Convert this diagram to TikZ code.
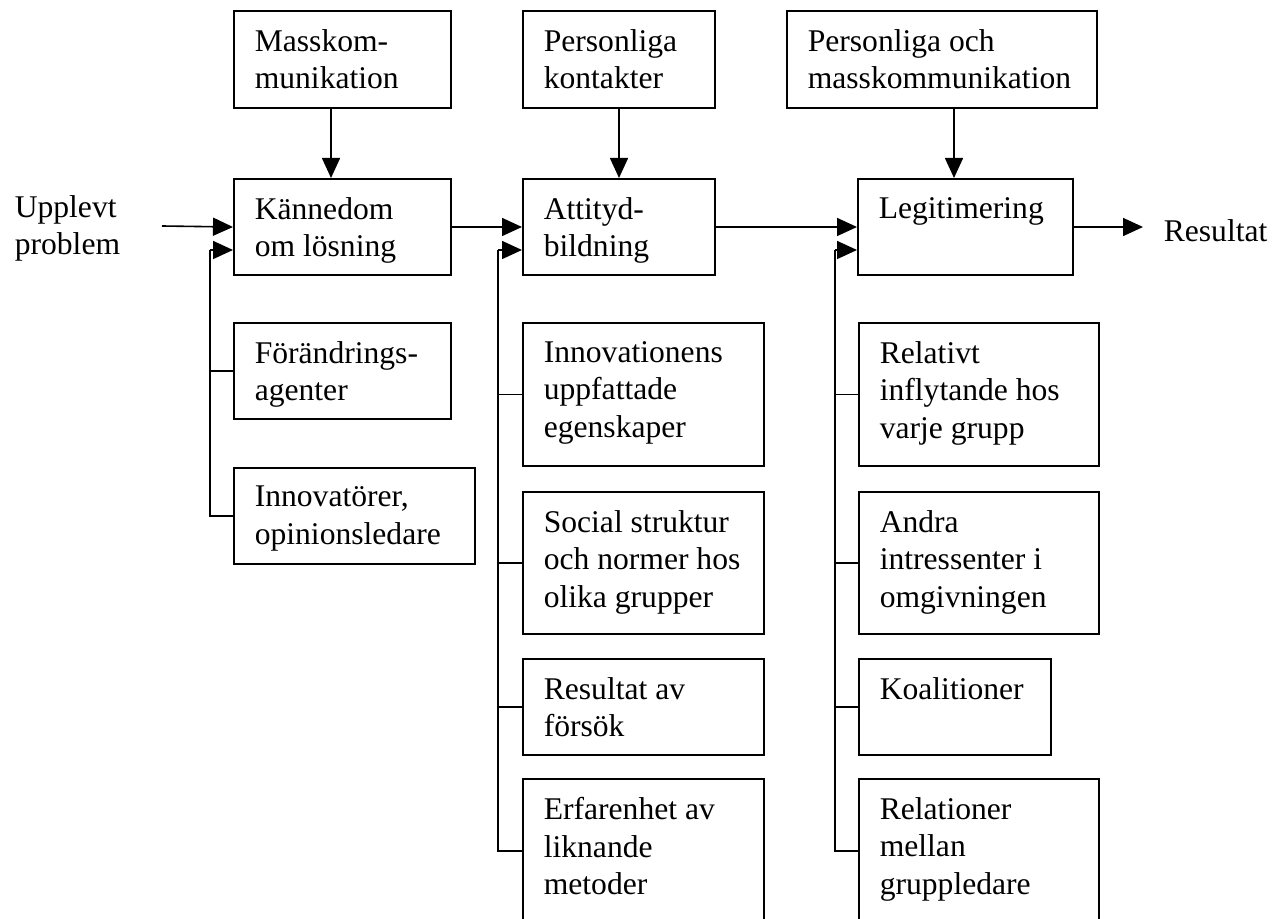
\documentclass[tikz,border=0pt]{standalone}
\usepackage{fontspec}
\setmainfont{Liberation Serif}
\usetikzlibrary{arrows.meta}

\begin{document}
\begin{tikzpicture}[x=0.5pt,y=-0.5pt,line width=0.8pt,
  >={Triangle[length=10pt,width=9pt]},
  box/.style={draw,line width=1pt,anchor=north west,inner sep=0pt},
  txt/.style={anchor=north west,align=left,inner sep=0pt,
    font=\fontsize{15.8}{18.75}\selectfont}]
\useasboundingbox (0,0) rectangle (1286,919);
%
\node[box,minimum width=108.5pt,minimum height=48.5pt] (mass) at (233,10) {};
\node[box,minimum width=96pt,minimum height=48.5pt] (pers) at (522,10) {};
\node[box,minimum width=155pt,minimum height=48.5pt] (persmass) at (786,10) {};
\node[txt] (mass-t) at ([shift={(21,18.5)}]mass.north west) {Masskom-\\munikation};
\node[txt] (pers-t) at ([shift={(21,18.5)}]pers.north west) {Personliga\\kontakter};
\node[txt] (persmass-t) at ([shift={(21,18.5)}]persmass.north west) {Personliga och\\masskommunikation};
%
\node[box,minimum width=108.5pt,minimum height=48pt] (kann) at (233,178) {};
\node[box,minimum width=96pt,minimum height=48pt] (att) at (522,178) {};
\node[box,minimum width=107.5pt,minimum height=48pt] (leg) at (857,178) {};
\node[txt] (kann-t) at ([shift={(21,18.5)}]kann.north west) {Kännedom\\om lösning};
\node[txt] (att-t) at ([shift={(21,18.5)}]att.north west) {Attityd-\\bildning};
\node[txt] (leg-t) at ([shift={(21,18.5)}]leg.north west) {Legitimering};
%
\node[txt] (upplevt) at (14,194.5) {Upplevt\\problem};
\node[txt,anchor=base west,inner xsep=10pt] (res) at (1143,242) {Resultat};
\coordinate (start) at (162,226);
%
\node[box,minimum width=108.5pt,minimum height=48pt] (forand) at (233,322) {};
\node[box,minimum width=120.5pt,minimum height=48pt] (innovat) at (233,467) {};
\node[txt] (forand-t) at ([shift={(21,18.5)}]forand.north west) {Förändrings-\\agenter};
\node[txt] (innovat-t) at ([shift={(21,18.5)}]innovat.north west) {Innovatörer,\\opinionsledare};
%
\node[box,minimum width=120.5pt,minimum height=71.5pt] (innov) at (522,322) {};
\node[box,minimum width=120.5pt,minimum height=71pt] (social) at (522,491) {};
\node[box,minimum width=120.5pt,minimum height=48pt] (resfor) at (522,658) {};
\node[box,minimum width=120.5pt,minimum height=72pt] (erfar) at (522,778) {};
\node[txt] (innov-t) at ([shift={(21,18.5)}]innov.north west) {Innovationens\\uppfattade\\egenskaper};
\node[txt] (social-t) at ([shift={(21,18.5)}]social.north west) {Social struktur\\och normer hos\\olika grupper};
\node[txt] (resfor-t) at ([shift={(21,18.5)}]resfor.north west) {Resultat av\\försök};
\node[txt] (erfar-t) at ([shift={(21,18.5)}]erfar.north west) {Erfarenhet av\\liknande\\metoder};
%
\node[box,minimum width=120pt,minimum height=71.5pt] (relinfl) at (858,322) {};
\node[box,minimum width=120pt,minimum height=71pt] (andra) at (858,491) {};
\node[box,minimum width=96pt,minimum height=48pt] (koal) at (858,658) {};
\node[box,minimum width=120pt,minimum height=72pt] (relat) at (858,778) {};
\node[txt] (relinfl-t) at ([shift={(21,18.5)}]relinfl.north west) {Relativt\\inflytande hos\\varje grupp};
\node[txt] (andra-t) at ([shift={(21,18.5)}]andra.north west) {Andra\\intressenter i\\omgivningen};
\node[txt] (koal-t) at ([shift={(21,18.5)}]koal.north west) {Koalitioner};
\node[txt] (relat-t) at ([shift={(21,18.5)}]relat.north west) {Relationer\\mellan\\gruppledare};
%
\coordinate (bus1) at (210,250);
\coordinate (bus2) at (498,250);
\coordinate (bus3) at (835,250);
%
\draw[->] ([xshift=-5.75pt]mass.south) -- ([xshift=-5.75pt]kann.north);
\draw[->] (pers) -- (att);
\draw[->] ([xshift=6pt]persmass.south) -- ([xshift=6pt]persmass.south |- leg.north);
%
\draw[->] (start) -- (kann.west);
\draw[->] (kann.east) -- (kann.east -| att.west);
\draw[->] (att.east) -- (att.east -| leg.west);
\draw[->] (leg.east) -- (leg.east -| res.west);
%
\draw[->] (bus1) -- (bus1 -| kann.west);
\draw (bus1) |- (innovat.west);
\draw (forand.west) -- (forand.west -| bus1);
%
\draw[->] (bus2) -- (bus2 -| att.west);
\draw (bus2) |- (erfar.west);
\draw (innov.west) -- (innov.west -| bus2);
\draw (social.west) -- (social.west -| bus2);
\draw (resfor.west) -- (resfor.west -| bus2);
%
\draw[->] (bus3) -- (bus3 -| leg.west);
\draw (bus3) |- (relat.west);
\draw (relinfl.west) -- (relinfl.west -| bus3);
\draw (andra.west) -- (andra.west -| bus3);
\draw (koal.west) -- (koal.west -| bus3);
\end{tikzpicture}
\end{document}
